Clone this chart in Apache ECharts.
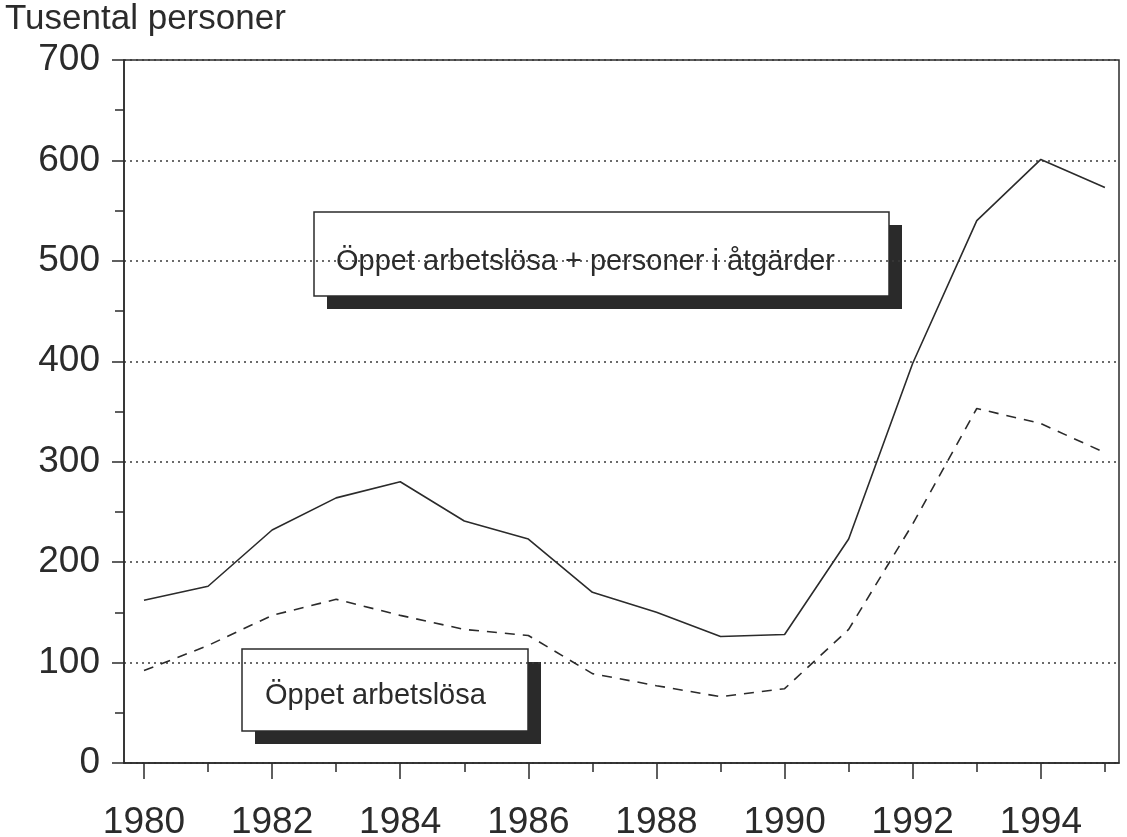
<!DOCTYPE html>
<html>
<head>
<meta charset="utf-8">
<script src="https://cdn.jsdelivr.net/npm/echarts@6/dist/echarts.min.js"></script>
<style>
html,body{margin:0;padding:0;background:#fff;}
#chart{width:1127px;height:837px;}
</style>
</head>
<body>
<div id="chart"></div>
<script>
const years = [1980,1981,1982,1983,1984,1985,1986,1987,1988,1989,1990,1991,1992,1993,1994,1995];
const totalWithMeasures = [162,176,232,264,280,241,223,170,150,126,128,223,398,540,601,573];
const openUnemployed = [92,117,147,163,147,133,127,89,77,66,74,133,238,353,338,309];
const labelYears = [1980,1982,1984,1986,1988,1990,1992,1994];
const minorYears = [1981,1983,1985,1987,1989,1991,1993,1995];
const yTitle = 'Tusental personer';
const labelTotal = 'Öppet arbetslösa + personer i åtgärder';
const labelOpen = 'Öppet arbetslösa';

const INK = '#2b2b2b';
const SANS = '"Liberation Sans",Arial,sans-serif';

const chart = echarts.init(document.getElementById('chart'), null, {renderer:'canvas'});

function box(x, y, w, h, text, tx, ty) {
  return {
    type: 'group', z: 100,
    children: [
      {type:'rect', shape:{x:x+13, y:y+13, width:w, height:h}, style:{fill:'#2a2a2a'}},
      {type:'rect', shape:{x:x, y:y, width:w, height:h}, style:{fill:'#fff', stroke:INK, lineWidth:1.5}},
      {type:'text', x:tx, y:ty, style:{text:text, fill:INK, font:'29px ' + SANS, textVerticalAlign:'middle', textAlign:'left'}}
    ]
  };
}

chart.setOption({
  animation: false,
  backgroundColor: '#fff',
  grid: {left:124, right:8, top:60, bottom:74, containLabel:false, outerBoundsMode:'none',
         show:true, borderColor:INK, borderWidth:1.5, backgroundColor:'transparent'},
  graphic: [
    {type:'text', left:5, top:2, style:{text:yTitle, fill:INK, font:'35px ' + SANS}},
    box(314, 212, 575, 84, labelTotal, 336, 262),
    box(242, 649, 286, 82, labelOpen, 265, 696)
  ],
  xAxis: [
    {
      type:'value', min:1979.688, max:1995.22, position:'bottom',
      axisLine:{show:true, onZero:false, lineStyle:{color:INK, width:1.5}},
      axisTick:{show:true, customValues:labelYears, length:16, lineStyle:{color:INK, width:1.5}},
      axisLabel:{show:true, customValues:labelYears, fontSize:37, fontFamily:SANS, color:INK, margin:41, formatter:v=>String(v)},
      splitLine:{show:false}
    },
    {
      type:'value', min:1979.688, max:1995.22, position:'bottom', offset:0,
      axisLine:{show:false},
      axisTick:{show:true, customValues:minorYears, length:9, lineStyle:{color:INK, width:1.5}},
      axisLabel:{show:false},
      splitLine:{show:false}
    }
  ],
  yAxis: {
    type:'value', min:0, max:700, interval:100,
    axisLine:{show:true, lineStyle:{color:INK, width:1.5}},
    axisTick:{show:true, length:12, lineStyle:{color:INK, width:1.5}},
    minorTick:{show:true, splitNumber:2, length:9, lineStyle:{color:INK, width:1.5}},
    axisLabel:{fontSize:37, fontFamily:SANS, color:INK, margin:24},
    splitLine:{show:true, lineStyle:{color:'#3a3a3a', width:1.5, type:[2,4]}}
  },
  series: [
    {
      name: labelTotal, type:'line', xAxisIndex:0, symbol:'none',
      data: years.map((y,i)=>[y,totalWithMeasures[i]]),
      lineStyle:{color:INK, width:1.6, type:'solid'}, z:10
    },
    {
      name: labelOpen, type:'line', xAxisIndex:0, symbol:'none',
      data: years.map((y,i)=>[y,openUnemployed[i]]),
      lineStyle:{color:INK, width:1.6, type:[10,8]}, z:10
    }
  ]
});
</script>
</body>
</html>
